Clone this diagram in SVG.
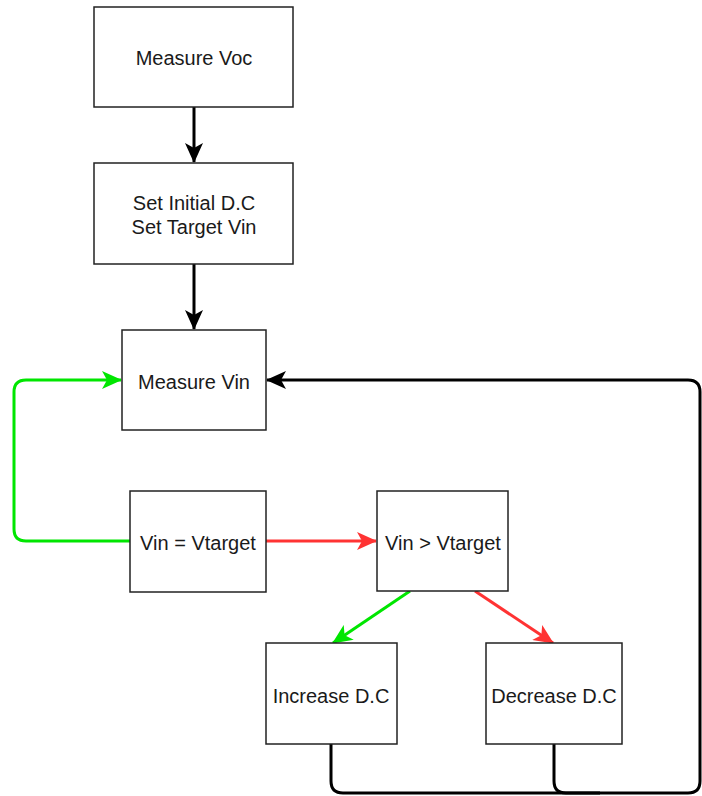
<svg xmlns="http://www.w3.org/2000/svg" width="702" height="796" viewBox="0 0 702 796">
  <style>
    .box { fill: #ffffff; stroke: #222222; stroke-width: 1.5; }
    .lbl { font-family: "Liberation Sans", Arial, sans-serif; font-size: 20px; fill: #1a1a1a; text-anchor: middle; dominant-baseline: central; }
    .k { fill: none; stroke: #000000; stroke-width: 3; stroke-linejoin: round; }
    .g { fill: none; stroke: #00e600; stroke-width: 3; stroke-linejoin: round; }
    .r { fill: none; stroke: #ff3333; stroke-width: 3; stroke-linejoin: round; }
  </style>
  <defs>
    <marker id="ak" viewBox="0 0 20 18" refX="19" refY="9" markerWidth="20" markerHeight="18" markerUnits="userSpaceOnUse" orient="auto">
      <path d="M0,0 L20,9 L0,18 L5,9 Z" fill="#000000"/>
    </marker>
    <marker id="ag" viewBox="0 0 20 18" refX="19" refY="9" markerWidth="20" markerHeight="18" markerUnits="userSpaceOnUse" orient="auto">
      <path d="M0,0 L20,9 L0,18 L5,9 Z" fill="#00e600"/>
    </marker>
    <marker id="ar" viewBox="0 0 20 18" refX="19" refY="9" markerWidth="20" markerHeight="18" markerUnits="userSpaceOnUse" orient="auto">
      <path d="M0,0 L20,9 L0,18 L5,9 Z" fill="#ff3333"/>
    </marker>
  </defs>
  <rect width="702" height="796" fill="#ffffff"/>

  <g id="connectors">
    <path class="k" d="M194,107 L194,162" marker-end="url(#ak)"/>
    <path class="k" d="M194,264 L194,329" marker-end="url(#ak)"/>
    <path class="g" d="M130,541 L26,541 Q14,541 14,529 L14,392 Q14,380 26,380 L121,380" marker-end="url(#ag)"/>
    <path class="r" d="M266,541 L376,541" marker-end="url(#ar)"/>
    <path class="g" d="M410,591 L333,643" marker-end="url(#ag)"/>
    <path class="r" d="M475,591 L553,643" marker-end="url(#ar)"/>
    <path class="k" d="M331,744 L331,781 Q331,793 343,793 L688,793 Q700,793 700,781 L700,392 Q700,380 688,380 L267,380" marker-end="url(#ak)"/>
    <path class="k" d="M554,744 L554,781 Q554,793 566,793 L600,793"/>
  </g>

  <g id="measure-voc">
    <rect class="box" x="94" y="7" width="199" height="100"/>
    <text class="lbl" x="194" y="58">Measure Voc</text>
  </g>
  <g id="set-initial">
    <rect class="box" x="94" y="163" width="199" height="101"/>
    <text class="lbl" x="194" y="203">Set Initial D.C</text>
    <text class="lbl" x="194" y="227">Set Target Vin</text>
  </g>
  <g id="measure-vin">
    <rect class="box" x="122" y="330" width="144" height="100"/>
    <text class="lbl" x="194" y="382">Measure Vin</text>
  </g>
  <g id="vin-eq">
    <rect class="box" x="130" y="491" width="136" height="101"/>
    <text class="lbl" x="198" y="543">Vin = Vtarget</text>
  </g>
  <g id="vin-gt">
    <rect class="box" x="377" y="491" width="131" height="100"/>
    <text class="lbl" x="443" y="543">Vin &gt; Vtarget</text>
  </g>
  <g id="increase">
    <rect class="box" x="266" y="643" width="131" height="101"/>
    <text class="lbl" x="331" y="696">Increase D.C</text>
  </g>
  <g id="decrease">
    <rect class="box" x="486" y="643" width="136" height="101"/>
    <text class="lbl" x="554" y="696">Decrease D.C</text>
  </g>
</svg>
